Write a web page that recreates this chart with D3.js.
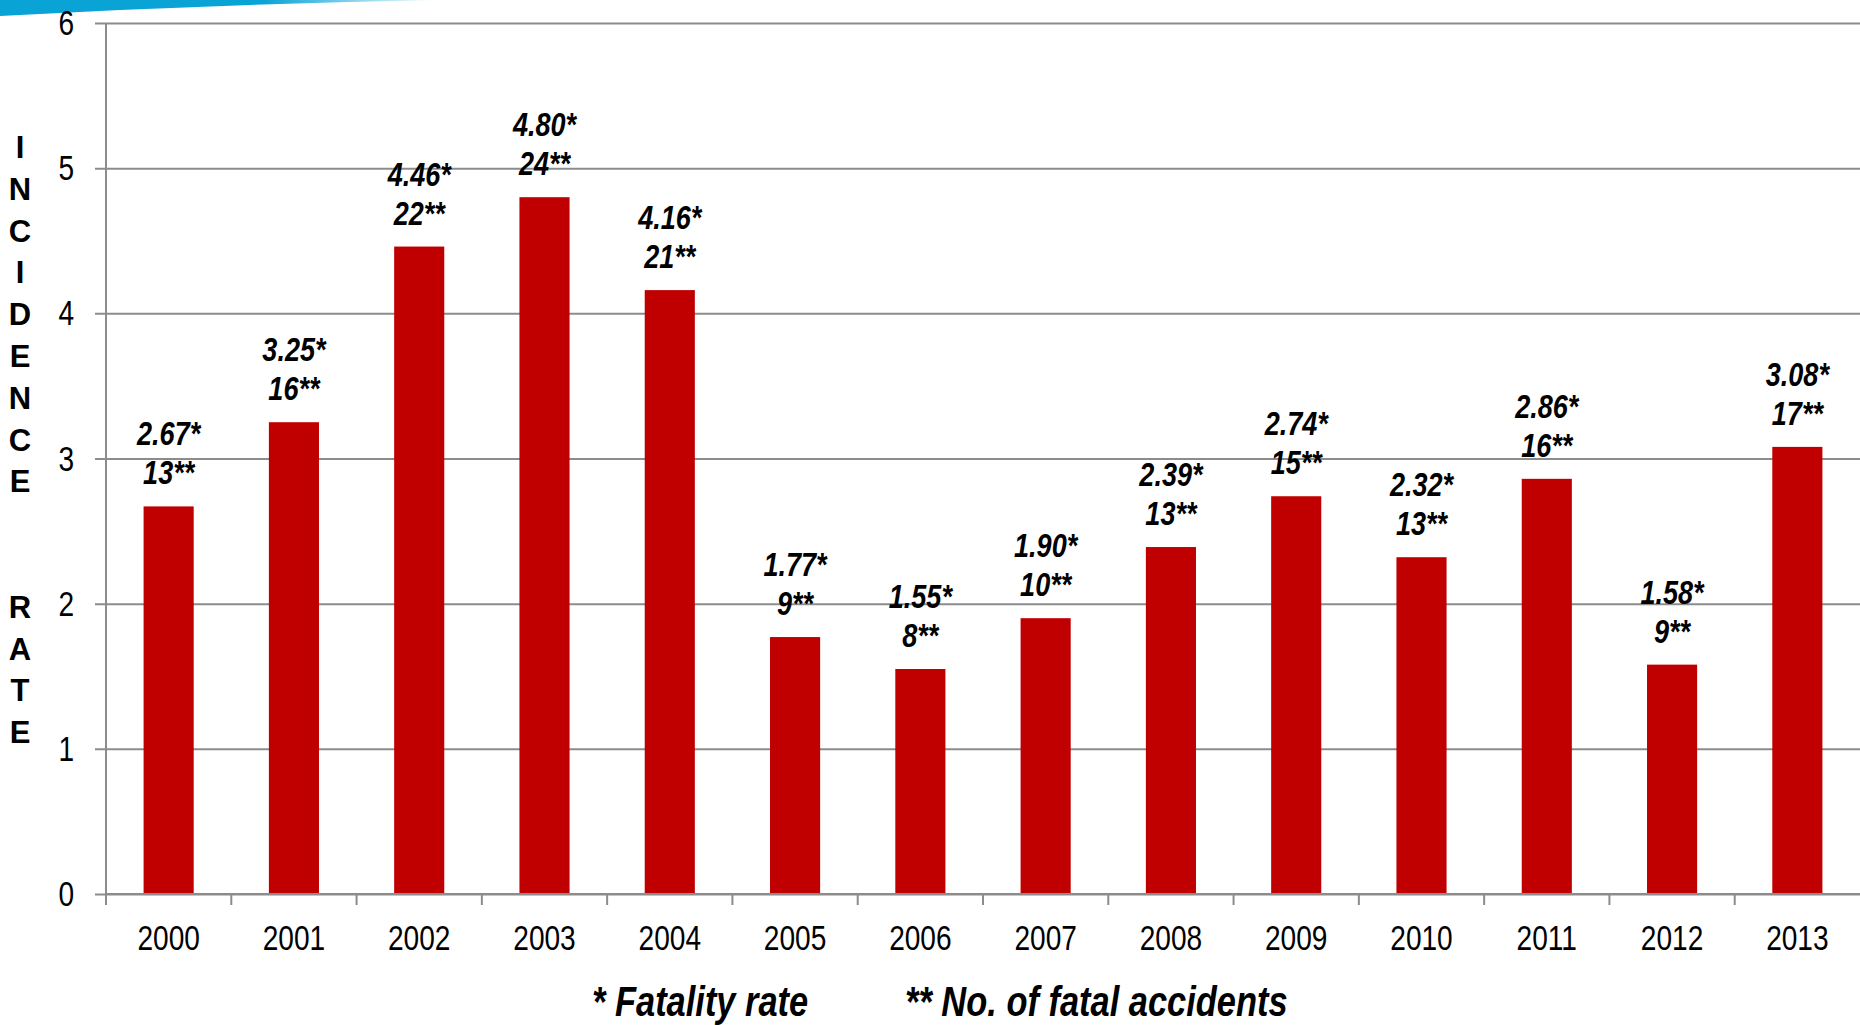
<!DOCTYPE html>
<html>
<head>
<meta charset="utf-8">
<script src="https://cdn.jsdelivr.net/npm/d3@7"></script>
<style>
  html, body { margin: 0; padding: 0; background: #fff; }
  svg { display: block; }
  .narrow { font-family: "Liberation Sans", Arial, sans-serif; }
</style>
</head>
<body>
<svg id="chart" width="1860" height="1025"></svg>
<script>
// data
const years = ["2000", "2001", "2002", "2003", "2004", "2005", "2006",
               "2007", "2008", "2009", "2010", "2011", "2012", "2013"];
const fatalityRate = [2.67, 3.25, 4.46, 4.80, 4.16, 1.77, 1.55,
                      1.90, 2.39, 2.74, 2.32, 2.86, 1.58, 3.08];
const fatalAccidents = [13, 16, 22, 24, 21, 9, 8, 10, 13, 15, 13, 16, 9, 17];
const yTicks = [0, 1, 2, 3, 4, 5, 6];
const axisTitle = "INCIDENCE  RATE";
const legendItems = ["* Fatality rate", "** No. of fatal accidents"];

// no Arial Narrow here, so squeeze Liberation Sans horizontally
const squeeze = 0.82;

function drawChart() {
    const svg = d3.select("#chart");
    const left = 106, right = 1860, top = 23, bottom = 894;
    const gridColor = "#8c8c8c";
    const barColor = "#c00000";

    const x = d3.scaleBand()
        .domain(years)
        .range([left, right])
        .paddingInner(0.6)
        .paddingOuter(0.3);

    const y = d3.scaleLinear()
        .domain([0, 6])
        .range([bottom, top]);

    const cx = d => x(d) + x.bandwidth() / 2;
    const at = (px, py, k = squeeze) => `translate(${px},${py}) scale(${k},1)`;

    // blue swoosh in the top-left corner (slide decoration)
    const grad = svg.append("defs").append("linearGradient")
        .attr("id", "swoosh").attr("x1", "0").attr("x2", "1");
    grad.append("stop").attr("offset", "0").attr("stop-color", "#0aa3d6");
    grad.append("stop").attr("offset", "0.6").attr("stop-color", "#0aa3d6");
    grad.append("stop").attr("offset", "1").attr("stop-color", "#0aa3d6").attr("stop-opacity", 0);
    svg.append("path")
        .attr("d", "M0,0 L440,0 Q220,4 0,16 Z")
        .attr("fill", "url(#swoosh)");

    // horizontal grid + y ticks
    const yAxis = d3.axisLeft(y)
        .tickValues(yTicks)
        .tickSize(-(right - left))
        .tickSizeOuter(0)
        .tickPadding(32)
        .tickFormat(d3.format("d"));

    const gy = svg.append("g")
        .attr("transform", `translate(${left},0)`)
        .call(yAxis);
    gy.select(".domain").remove();
    gy.selectAll(".tick line")
        .attr("x1", -11)
        .attr("stroke", gridColor)
        .attr("stroke-width", 2);
    gy.selectAll(".tick text")
        .attr("class", "narrow")
        .attr("font-size", 36)
        .attr("fill", "#000")
        .attr("x", null)
        .attr("transform", at(-32, 0, 0.78));

    // y axis line
    svg.append("line")
        .attr("x1", left).attr("x2", left)
        .attr("y1", y(6)).attr("y2", y(0) + 11)
        .attr("stroke", gridColor)
        .attr("stroke-width", 2);

    // bars
    svg.append("g")
        .selectAll("rect")
        .data(years)
        .join("rect")
        .attr("x", d => x(d))
        .attr("y", (d, i) => y(fatalityRate[i]))
        .attr("width", x.bandwidth())
        .attr("height", (d, i) => y(0) - y(fatalityRate[i]))
        .attr("fill", barColor);

    // x axis: ticks sit on the band boundaries
    const step = x.step();
    const boundaries = years.map(d => x(d) - step * x.paddingInner() / 2);
    const gx = svg.append("g");
    gx.append("line")
        .attr("x1", left).attr("x2", right)
        .attr("y1", y(0)).attr("y2", y(0))
        .attr("stroke", gridColor)
        .attr("stroke-width", 2);
    gx.selectAll("line.tick")
        .data(boundaries)
        .join("line")
        .attr("class", "tick")
        .attr("x1", d => d).attr("x2", d => d)
        .attr("y1", y(0)).attr("y2", y(0) + 11)
        .attr("stroke", gridColor)
        .attr("stroke-width", 2);
    gx.selectAll("text")
        .data(years)
        .join("text")
        .attr("class", "narrow")
        .attr("transform", d => at(cx(d), y(0) + 56, 0.78))
        .attr("text-anchor", "middle")
        .attr("font-size", 36)
        .text(d => d);

    // value labels: rate on top line, count below
    const labels = svg.append("g")
        .attr("class", "narrow")
        .attr("font-size", 33)
        .attr("font-weight", "bold")
        .attr("font-style", "italic")
        .attr("text-anchor", "middle");

    labels.selectAll("text.rate")
        .data(years)
        .join("text")
        .attr("class", "rate")
        .attr("transform", (d, i) => at(cx(d), y(fatalityRate[i]) - 61))
        .text((d, i) => d3.format(".2f")(fatalityRate[i]) + "*");

    labels.selectAll("text.count")
        .data(years)
        .join("text")
        .attr("class", "count")
        .attr("transform", (d, i) => at(cx(d), y(fatalityRate[i]) - 22))
        .text((d, i) => fatalAccidents[i] + "**");

    // vertical stacked axis title
    svg.append("g")
        .attr("font-family", "'Liberation Sans', Arial, sans-serif")
        .attr("font-weight", "bold")
        .attr("font-size", 31)
        .attr("text-anchor", "middle")
        .selectAll("text")
        .data(axisTitle.split(""))
        .join("text")
        .attr("x", 20)
        .attr("y", (d, i) => 158 + i * 41.8)
        .text(d => d);

    // footnote legend
    svg.append("g")
        .attr("class", "narrow")
        .attr("font-size", 42)
        .attr("font-weight", "bold")
        .attr("font-style", "italic")
        .selectAll("text")
        .data(legendItems)
        .join("text")
        .attr("transform", (d, i) => at(i === 0 ? 592 : 905, 1016))
        .text(d => d);
}

drawChart();
</script>
</body>
</html>
